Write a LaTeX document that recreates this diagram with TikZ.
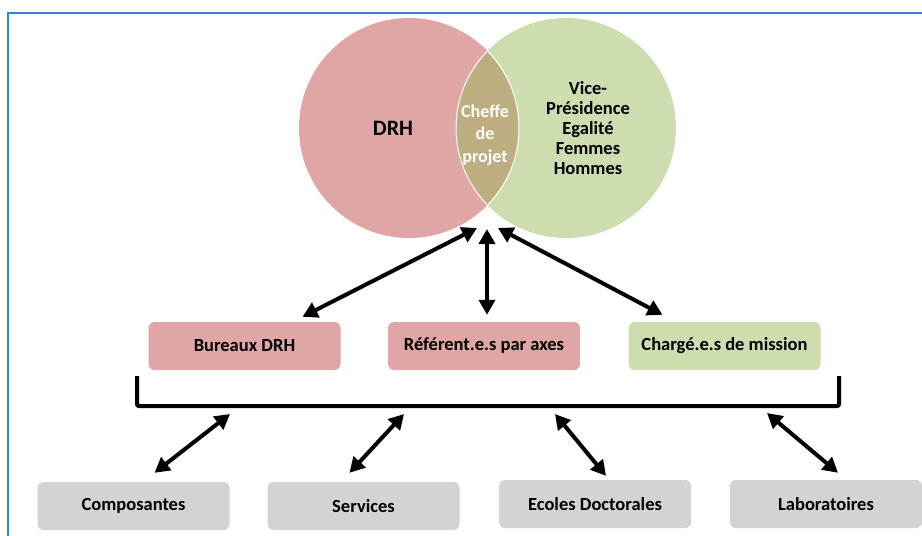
\documentclass[tikz,border=0pt]{standalone}
\usepackage{fontspec}
\setmainfont{Carlito}
\usetikzlibrary{arrows.meta}

\definecolor{frameblue}{HTML}{2E88D6}
\definecolor{drhpink}{HTML}{E0A5A5}
\definecolor{vpgreen}{HTML}{CEDDB0}
\definecolor{cheffetan}{HTML}{BDAE82}
\definecolor{unitgray}{HTML}{D3D3D3}

\tikzset{
  label txt/.style={font=\bfseries\fontsize{18.5}{20}\selectfont, align=center, inner sep=0pt},
  unit/.style={rectangle, rounded corners=6pt, minimum width=192pt, minimum height=48pt,
    inner sep=0pt, font=\bfseries\fontsize{18.5}{20}\selectfont},
  link/.style={line width=4pt,
    {Triangle[length=15pt,width=16pt]}-{Triangle[length=15pt,width=16pt]}},
}

\begin{document}
\begin{tikzpicture}[x=1pt,y=-1pt]
\useasboundingbox (0,0) rectangle (922,536);

\draw[frameblue, line width=1.5pt] (8,545) -- (8,13) -- (935,13);

\fill[drhpink] (409,128) circle (110pt);
\fill[vpgreen] (566,128) circle (110pt);
\begin{scope}
  \clip (409,128) circle (110pt);
  \fill[cheffetan] (566,128) circle (110pt);
  \draw[white, line width=1pt] (566,128) circle (110pt);
\end{scope}
\begin{scope}
  \clip (566,128) circle (110pt);
  \draw[white, line width=1pt] (409,128) circle (110pt);
\end{scope}

\node[label txt, font=\bfseries\fontsize{22}{24}\selectfont] (drh) at (393,128) {DRH};
\node[label txt] (vp) at (588,128) {Vice-\\Présidence\\Egalité\\Femmes\\Hommes};
\node[label txt, white, font=\bfseries\fontsize{18}{22.5}\selectfont] (cheffe) at (485,135) {Cheffe\\de\\projet};

\node[unit, fill=drhpink] (bureaux) at (244.5,346) {Bureaux DRH};
\node[unit, fill=drhpink] (referents) at (484,346) {Référent.e.s par axes};
\node[unit, fill=vpgreen] (charges) at (724.5,346) {Chargé.e.s de mission};

\coordinate (vennL) at (477,228);
\coordinate (vennM) at (487,229);
\coordinate (vennR) at (498,228);
\draw[link] (vennL) -- ([xshift=58pt,yshift=5pt]bureaux.north);
\draw[link] (vennM) -- ([xshift=3pt,yshift=7pt]referents.north);
\draw[link] (vennR) -- ([xshift=-62pt,yshift=7pt]charges.north);

\draw[line width=4pt, rounded corners=2pt] (137,376) -- (137,406) -- (839,406) -- (839,376);

\node[unit, fill=unitgray] (composantes) at (133.5,506) {Composantes};
\node[unit, fill=unitgray] (services) at (363.5,506) {Services};
\node[unit, fill=unitgray] (ecoles) at (595,504) {Ecoles Doctorales};
\node[unit, fill=unitgray] (labos) at (826,504) {Laboratoires};

\coordinate (brace1) at (230,414);
\coordinate (brace2) at (404,414);
\coordinate (brace3) at (555,414);
\coordinate (brace4) at (767,413);
\draw[link] (brace1) -- ([xshift=21pt,yshift=9pt]composantes.north);
\draw[link] (brace2) -- ([xshift=-14pt,yshift=9pt]services.north);
\draw[link] (brace3) -- ([xshift=11pt,yshift=4pt]ecoles.north);
\draw[link] (brace4) -- ([xshift=12pt,yshift=7pt]labos.north);

\end{tikzpicture}
\end{document}
